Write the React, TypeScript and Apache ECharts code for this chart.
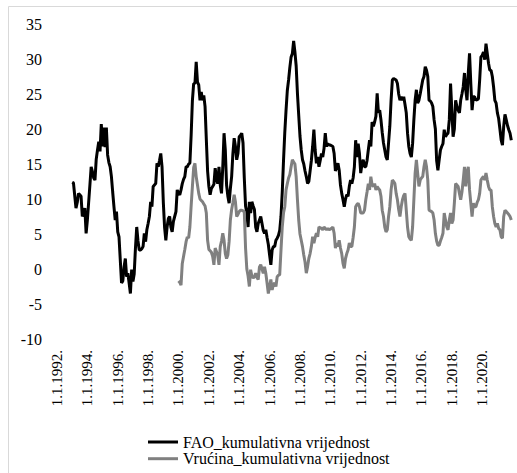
import React, { useEffect, useRef } from "react";
import * as echarts from "echarts";

const startYear = 1992;
const endYear = 2021;
const tickYears = [1992, 1994, 1996, 1998, 2000, 2002, 2004, 2006, 2008, 2010, 2012, 2014, 2016, 2018, 2020];

// FAO_kumulativna vrijednost, monthly from 1.1.1993.
const faoValues = [
  12.4, 12.3, 10.5, 8.7, 9.5, 10.8, 10.6, 10.4, 7.5, 8.0, 8.7, 5.1,
  7.0, 9.5, 12.0, 14.6, 13.9, 13.0, 12.7, 15.7, 17.0, 18.2, 16.8, 20.7,
  17.5, 20.2, 17.4, 20.2, 16.3, 15.2, 14.6, 13.2, 11.0, 8.9, 7.0, 8.2,
  5.3, 4.6, 1.3, -2.0, -1.7, 0.3, 1.5, -1.1, -0.6, -2.0, -3.5, -0.1,
  -1.8, -0.7, 3.0, 6.0, 4.0, 2.7, 2.7, 2.9, 3.2, 5.1, 3.9, 5.6,
  6.5, 7.5, 9.6, 8.9, 11.8, 12.0, 12.2, 15.1, 14.6, 15.5, 16.5, 14.6,
  9.6, 6.0, 4.1, 6.0, 7.2, 7.5, 6.0, 5.3, 6.8, 7.5, 8.2, 11.3,
  10.8, 10.6, 11.3, 12.2, 12.8, 13.2, 14.6, 14.6, 15.0, 15.1, 19.1, 24.1,
  26.5, 26.5, 29.6, 26.7, 26.3, 24.1, 25.3, 24.1, 24.8, 23.2, 18.5, 14.0,
  11.8, 10.6, 11.5, 11.8, 12.1, 14.4, 12.9, 12.2, 14.6, 12.0, 10.8, 14.6,
  19.4, 17.0, 12.0, 10.4, 9.4, 11.5, 13.2, 16.5, 18.7, 17.5, 15.6, 16.5,
  18.9, 19.1, 19.4, 18.0, 13.0, 9.0, 8.0, 6.0, 9.6, 8.0, 9.6, 9.0,
  8.5, 6.0, 5.3, 6.5, 7.0, 7.5, 6.5, 5.5, 5.1, 5.6, 4.5, 3.5,
  2.0, 0.6, 2.7, 3.2, 3.2, 4.1, 4.4, 4.8, 5.5, 7.5, 11.0, 15.5,
  19.5, 22.7, 25.5, 27.0, 28.8, 30.3, 30.8, 32.6, 31.0, 29.0, 25.1, 22.0,
  19.0, 17.0, 15.6, 15.0, 14.0, 13.2, 12.2, 12.5, 14.0, 15.5, 17.5, 19.9,
  17.0, 15.1, 16.0, 14.6, 15.5, 16.5, 16.0, 17.2, 19.4, 17.5, 17.9, 17.7,
  17.7, 17.6, 17.5, 16.5, 14.0, 14.6, 15.1, 14.1, 12.0, 10.8, 9.9, 8.9,
  10.0, 10.6, 10.4, 11.8, 12.7, 12.2, 13.0, 14.6, 18.4, 16.0, 17.9, 16.5,
  13.7, 15.0, 15.6, 14.6, 14.6, 15.5, 17.0, 18.4, 17.5, 21.0, 20.4, 21.0,
  21.8, 25.1, 22.3, 22.7, 21.3, 19.5, 18.0, 17.0, 16.0, 15.6, 18.0, 20.4,
  24.1, 27.0, 27.2, 27.1, 27.0, 26.5, 25.0, 24.1, 24.6, 24.1, 24.6, 23.5,
  22.3, 19.4, 17.5, 16.5, 16.0, 17.9, 21.3, 24.1, 25.6, 23.7, 24.1, 25.0,
  26.0, 27.0, 27.5, 28.9, 28.4, 27.5, 24.1, 24.0, 23.7, 23.2, 21.3, 20.0,
  15.5, 14.1, 15.6, 17.0, 17.5, 17.9, 19.9, 18.9, 19.2, 19.4, 21.3, 26.5,
  22.7, 18.9, 20.0, 24.1, 23.2, 22.7, 22.3, 24.1, 25.0, 26.0, 28.0, 25.6,
  24.1, 28.0, 30.8, 26.5, 22.7, 24.6, 24.6, 24.1, 24.2, 24.3, 27.0, 30.3,
  30.5, 31.0, 29.9, 32.2, 30.8, 29.4, 28.4, 28.4, 27.5, 26.0, 24.1, 23.7,
  22.3, 21.5, 20.0, 18.4, 17.7, 20.4, 22.1, 21.3, 20.5, 19.9, 19.4, 18.4,
];
const faoStartYear = 1993;

// Vrućina_kumulativna vrijednost, monthly from 1.1.2000.
const heatValues = [
  -1.7, -1.9, -2.3, 0.8, 1.8, 2.8, 3.9, 4.6, 4.4, 6.0, 9.0, 11.8,
  14.5, 15.1, 13.2, 12.0, 10.8, 10.0, 9.8, 9.6, 9.3, 9.0, 8.0, 4.1,
  2.8, 2.6, 2.4, 1.8, 0.6, 3.0, 2.5, 2.0, 0.6, 3.2, 4.0, 5.1,
  4.1, 2.2, 1.5, 2.0, 3.9, 7.0, 8.5, 9.5, 10.6, 9.6, 7.5, 7.8,
  8.2, 8.4, 8.4, 8.3, 8.2, 3.0, 0.0, -1.0, -2.5, -0.1, -1.0, -1.3,
  -1.1, -0.6, -1.2, -1.5, 0.3, 0.6, 0.0, -0.6, 0.3, -0.6, -2.0, -3.5,
  -2.5, -1.5, -3.0, -2.2, -2.0, -2.5, -1.1, -0.9, -0.8, 2.7, 6.0, 8.0,
  8.9, 11.3, 12.2, 13.0, 13.5, 14.6, 15.6, 15.3, 15.0, 13.2, 9.9, 7.0,
  5.0, 4.1, 3.2, 2.0, 1.0, -0.6, 0.3, 1.5, 2.2, 3.2, 4.6, 3.7,
  4.5, 5.1, 4.6, 6.0, 5.9, 5.8, 5.6, 6.0, 5.8, 5.6, 5.8, 5.6,
  5.7, 5.8, 6.0, 5.1, 3.0, 3.7, 3.2, 4.1, 3.0, 2.2, 0.8, 0.1,
  1.5, 2.2, 2.7, 3.7, 3.2, 3.2, 4.5, 6.0, 8.9, 9.2, 9.4, 8.9,
  8.0, 8.0, 8.0, 8.4, 9.9, 11.0, 12.2, 11.3, 13.2, 12.0, 11.8, 12.2,
  11.3, 11.8, 11.5, 11.3, 10.4, 8.4, 7.5, 6.0, 5.3, 5.6, 7.5, 8.9,
  11.3, 12.7, 12.5, 12.2, 10.8, 9.9, 8.5, 7.5, 8.9, 9.9, 10.5, 10.8,
  8.4, 6.0, 4.6, 4.3, 4.1, 6.0, 9.9, 13.7, 15.6, 13.7, 11.8, 12.7,
  13.0, 13.2, 14.6, 15.6, 14.6, 12.7, 8.4, 8.3, 8.2, 8.0, 7.0, 5.1,
  4.0, 3.4, 3.4, 4.0, 4.5, 5.1, 8.0, 7.0, 6.0, 5.6, 7.0, 8.0,
  6.5, 7.0, 9.4, 12.2, 12.0, 11.8, 10.8, 9.9, 11.0, 12.7, 14.6, 11.8,
  13.7, 14.6, 11.3, 9.4, 7.5, 9.4, 8.9, 8.9, 9.5, 9.9, 10.8, 12.7,
  13.0, 13.2, 12.7, 13.7, 12.7, 11.8, 11.3, 11.3, 8.9, 7.5, 6.5, 6.0,
  6.5, 5.8, 5.6, 4.6, 4.4, 7.5, 8.4, 8.2, 8.0, 7.8, 7.5, 7.0,
];
const heatStartYear = 2000;

const yTicks = { min: -10, max: 35, interval: 5 };

const categories: string[] = [];
for (let y = startYear; y <= endYear; y++) {
  for (let m = 1; m <= 12; m++) categories.push(`1.${m}.${y}.`);
}

function pad(values: number[], fromYear: number): (number | null)[] {
  const lead = (fromYear - startYear) * 12;
  const out: (number | null)[] = [];
  for (let i = 0; i < lead; i++) out.push(null);
  return out.concat(values);
}

const serif = "'Liberation Serif', 'DejaVu Serif'";

export default function App() {
  const ref = useRef<HTMLDivElement>(null);
  useEffect(() => {
    if (!ref.current) return;
    const chart = echarts.init(ref.current, undefined, { renderer: "svg" });
    const tickSet = new Set(tickYears.map((y) => `1.1.${y}.`));
    chart.setOption({
      animation: false,
      backgroundColor: "#ffffff",
      textStyle: { fontFamily: serif },
      graphic: [
        {
          type: "rect",
          shape: { x: 8.5, y: 6.5, width: 540, height: 480 },
          style: { fill: "none", stroke: "#d9d9d9", lineWidth: 1 },
          silent: true,
        },
      ],
      grid: { left: 57, top: 24, width: 454.3, height: 315, containLabel: false },
      xAxis: {
        type: "category",
        data: categories,
        boundaryGap: false,
        axisLine: { show: false },
        axisTick: { show: false },
        splitLine: { show: false },
        axisLabel: {
          interval: (_i: number, v: string) => tickSet.has(v),
          rotate: 90,
          margin: 11,
          fontFamily: serif,
          fontSize: 15,
          color: "#000",
        },
      },
      yAxis: {
        type: "value",
        min: yTicks.min,
        max: yTicks.max,
        interval: yTicks.interval,
        axisLine: { show: false },
        axisTick: { show: false },
        splitLine: { show: false },
        axisLabel: { margin: 15, fontFamily: serif, fontSize: 16, color: "#000" },
      },
      legend: {
        orient: "vertical",
        left: 148,
        top: 434,
        icon: "rect",
        itemWidth: 30,
        itemHeight: 3,
        itemGap: 0.7,
        padding: 0,
        textStyle: { fontFamily: serif, fontSize: 16, color: "#000" },
        data: ["FAO_kumulativna vrijednost", "Vrućina_kumulativna vrijednost"],
      },
      series: [
        {
          name: "FAO_kumulativna vrijednost",
          type: "line",
          data: pad(faoValues, faoStartYear),
          symbol: "none",
          lineStyle: { color: "#000000", width: 3 },
          itemStyle: { color: "#000000" },
          connectNulls: false,
        },
        {
          name: "Vrućina_kumulativna vrijednost",
          type: "line",
          data: pad(heatValues, heatStartYear),
          symbol: "none",
          lineStyle: { color: "#808080", width: 3 },
          itemStyle: { color: "#808080" },
          connectNulls: false,
        },
      ],
    });
    return () => chart.dispose();
  }, []);
  return (
    <div
      ref={ref}
      style={{ position: "fixed", left: 0, top: 0, width: 517, height: 473 }}
    />
  );
}
